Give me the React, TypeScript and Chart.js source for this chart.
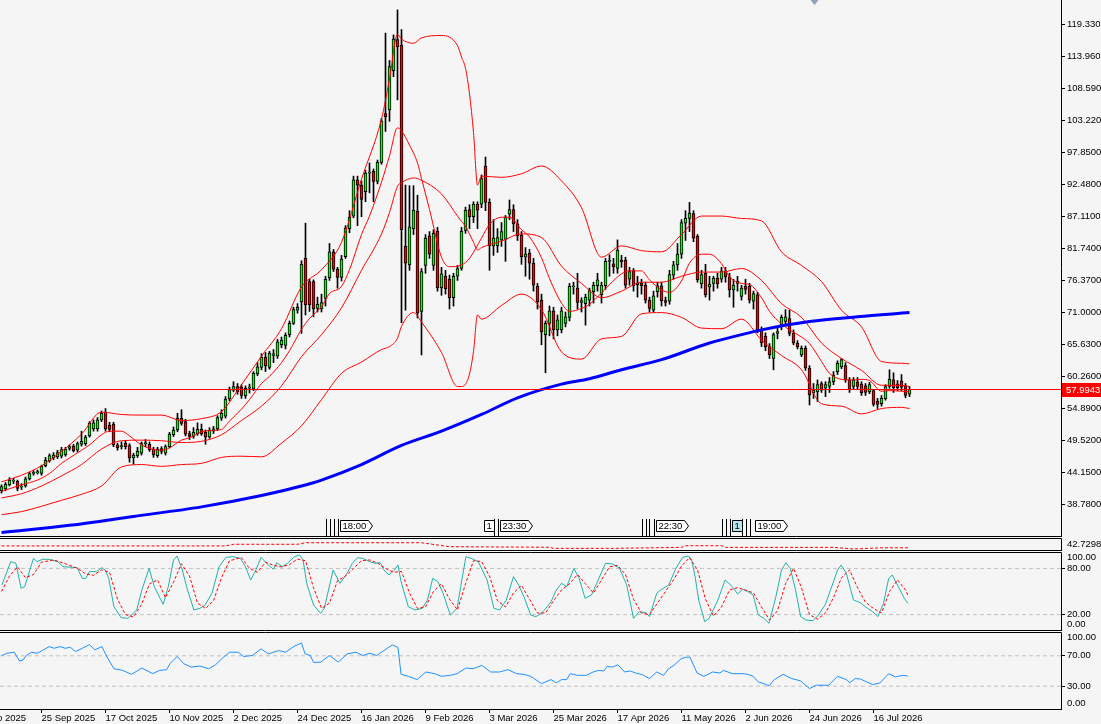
import React, { useEffect, useRef } from "react";
import { Chart, registerables } from "chart.js";

Chart.register(...registerables);

// ---------------- price data (daily candles) ----------------
const opens = [
  41.0, 41.3, 42.0, 42.6, 42.6, 41.6, 41.8, 43.0, 43.9, 44.0,
  43.9, 45.2, 46.0, 46.5, 46.7, 46.8, 47.0, 48.1, 48.5, 47.8,
  48.8, 48.9, 50.2, 51.4, 51.4, 52.9, 54.2, 52.0, 52.2, 48.7,
  48.4, 49.0, 48.6, 46.5, 46.9, 47.3, 48.9, 48.8, 48.0, 46.9,
  48.1, 47.3, 48.4, 50.4, 51.2, 53.2, 52.6, 50.6, 50.1, 50.6,
  51.3, 50.8, 50.0, 51.0, 51.4, 53.2, 53.5, 56.4, 57.9, 58.5,
  58.4, 56.9, 58.2, 58.1, 60.6, 61.7, 63.4, 61.7, 63.7, 63.6,
  65.5, 65.4, 67.2, 69.1, 71.3, 72.7, 80.0, 76.1, 76.1, 71.6,
  71.5, 73.3, 76.7, 81.1, 78.2, 76.8, 80.3, 85.0, 87.1, 93.2,
  92.3, 91.2, 94.3, 94.6, 92.9, 96.1, 104.3, 104.9, 111.5, 116.7,
  115.8, 82.0, 78.9, 85.0, 87.9, 71.1, 78.8, 83.8, 78.8, 84.6,
  75.1, 77.0, 76.5, 73.4, 77.0, 78.3, 84.7, 88.2, 87.0, 89.1,
  89.1, 95.5, 89.4, 82.1, 82.1, 83.1, 83.2, 87.4, 88.2, 85.8,
  83.9, 80.2, 80.9, 79.2, 75.3, 73.0, 67.2, 69.1, 71.2, 68.0,
  68.0, 69.1, 70.1, 75.2, 75.0, 72.6, 72.4, 73.0, 74.4, 75.4,
  73.9, 75.4, 79.5, 79.1, 78.3, 79.7, 79.7, 76.5, 77.9, 75.6,
  75.8, 75.5, 73.0, 71.3, 74.4, 75.4, 72.9, 72.8, 77.2, 78.9,
  80.7, 85.9, 86.7, 87.5, 83.7, 75.7, 77.5, 75.2, 75.8, 76.7,
  76.5, 77.9, 76.9, 74.7, 75.8, 73.6, 75.3, 75.3, 72.8, 73.9,
  68.0, 66.9, 65.2, 63.2, 67.4, 68.8, 69.4, 69.9, 67.4, 65.8,
  63.8, 64.9, 61.6, 57.4, 57.6, 59.0, 58.2, 58.5, 59.3, 61.0,
  61.8, 62.0, 59.6, 58.5, 59.3, 58.9, 58.6, 57.6, 57.8, 56.0,
  55.6, 56.4, 58.5, 59.6, 58.9, 59.4, 58.6, 57.2,
];
const highs = [
  42.0, 42.4, 43.2, 43.1, 42.8, 42.2, 43.3, 44.1, 44.4, 44.5,
  45.3, 46.6, 47.2, 47.4, 47.8, 48.3, 48.3, 48.7, 48.8, 49.2,
  51.0, 50.3, 52.6, 52.9, 53.3, 54.4, 54.8, 52.5, 52.5, 49.0,
  49.2, 49.3, 48.9, 47.3, 48.3, 49.2, 49.6, 49.2, 48.3, 48.3,
  48.4, 48.7, 50.8, 51.7, 54.0, 54.6, 53.0, 51.0, 51.6, 52.4,
  52.2, 51.2, 51.6, 51.8, 53.6, 54.6, 56.8, 58.4, 59.3, 59.0,
  58.8, 58.6, 58.9, 61.0, 62.5, 64.0, 64.2, 64.4, 64.7, 66.4,
  66.8, 67.5, 69.5, 71.8, 72.4, 79.6, 85.9, 76.5, 76.4, 73.5,
  74.0, 77.0, 82.5, 81.5, 78.5, 80.5, 85.5, 88.0, 93.8, 93.8,
  93.0, 94.8, 96.0, 95.0, 96.5, 103.5, 117.8, 113.2, 117.5, 121.7,
  118.4, 92.3, 92.2, 92.2, 90.6, 78.3, 84.0, 84.5, 84.8, 85.2,
  78.5, 78.0, 77.2, 77.5, 78.8, 85.2, 88.6, 89.0, 89.5, 89.5,
  94.0, 97.0, 90.0, 86.5, 85.0, 86.0, 87.2, 89.8, 89.0, 86.5,
  84.5, 81.8, 81.5, 80.0, 75.8, 74.0, 69.5, 72.0, 71.8, 70.5,
  71.8, 71.0, 75.8, 76.0, 77.5, 73.4, 74.0, 75.0, 76.0, 77.5,
  76.0, 80.0, 80.6, 80.0, 83.1, 80.5, 80.2, 78.5, 78.3, 77.0,
  76.5, 76.0, 73.5, 74.5, 76.0, 76.0, 73.5, 78.0, 79.5, 82.5,
  86.5, 88.0, 89.4, 88.0, 84.0, 78.0, 79.0, 77.0, 77.0, 77.5,
  78.5, 78.5, 77.5, 76.5, 77.0, 75.5, 76.5, 75.8, 74.5, 74.3,
  68.5, 67.5, 65.7, 67.5, 68.5, 70.5, 71.4, 71.3, 68.0, 66.2,
  65.3, 65.3, 62.0, 59.0, 59.6, 59.3, 59.3, 60.0, 61.0, 62.8,
  63.2, 62.5, 60.0, 60.0, 60.0, 59.3, 59.0, 59.2, 58.0, 56.5,
  57.0, 58.8, 61.3, 60.8, 59.5, 60.5, 59.0, 58.5,
];
const lows = [
  40.6, 41.0, 41.8, 42.2, 41.0, 41.2, 41.6, 42.8, 43.6, 43.8,
  43.6, 45.0, 45.8, 46.2, 46.4, 46.5, 46.8, 47.8, 47.5, 47.5,
  48.5, 48.6, 50.0, 51.0, 51.0, 52.6, 51.0, 50.9, 48.4, 47.8,
  48.0, 48.0, 45.8, 45.5, 46.6, 47.0, 48.4, 47.6, 46.6, 46.6,
  47.2, 47.0, 48.2, 50.1, 50.9, 52.0, 50.2, 49.6, 49.8, 50.3,
  50.3, 48.8, 49.8, 50.6, 51.1, 52.8, 53.2, 56.1, 57.6, 57.2,
  56.5, 56.5, 57.4, 57.8, 60.3, 61.3, 61.0, 61.4, 62.5, 63.2,
  65.0, 64.8, 66.8, 68.9, 70.8, 67.4, 70.5, 71.1, 70.2, 71.0,
  71.0, 72.0, 76.3, 77.8, 75.0, 76.2, 80.0, 84.3, 86.8, 85.5,
  87.0, 89.5, 91.0, 89.5, 92.5, 95.8, 101.3, 103.0, 110.5, 106.6,
  69.2, 71.3, 78.0, 84.0, 70.0, 63.8, 77.5, 80.0, 78.0, 74.5,
  73.8, 74.0, 71.5, 72.0, 76.3, 78.0, 84.2, 85.0, 86.0, 85.0,
  88.5, 88.0, 78.0, 80.5, 81.0, 82.0, 79.5, 86.5, 84.5, 83.0,
  79.0, 77.0, 76.5, 74.5, 71.5, 65.5, 60.8, 67.0, 66.5, 67.0,
  67.5, 68.5, 69.5, 74.0, 71.5, 71.0, 68.8, 72.0, 72.5, 74.5,
  72.5, 74.8, 77.0, 77.5, 77.5, 78.5, 75.0, 75.5, 74.5, 73.5,
  74.0, 72.5, 71.0, 71.0, 73.5, 72.0, 72.0, 72.3, 76.5, 78.0,
  80.0, 83.0, 84.5, 82.8, 76.0, 75.0, 73.5, 73.0, 74.5, 75.0,
  76.0, 76.0, 73.5, 71.8, 74.5, 73.0, 74.0, 72.5, 71.5, 67.5,
  65.2, 64.5, 63.2, 61.3, 66.5, 68.0, 69.0, 67.0, 65.5, 64.8,
  63.5, 61.2, 55.4, 56.5, 56.0, 57.5, 56.8, 57.5, 58.8, 60.5,
  61.5, 59.2, 57.5, 58.0, 58.0, 57.0, 57.0, 57.3, 55.2, 54.8,
  55.2, 56.2, 58.2, 57.5, 57.8, 57.8, 56.6, 56.8,
];
const closes = [
  41.7, 42.1, 42.8, 42.8, 41.4, 41.8, 43.0, 43.9, 44.1, 44.2,
  45.1, 46.1, 46.9, 47.0, 47.4, 47.9, 48.0, 48.4, 47.7, 48.9,
  49.3, 50.0, 52.3, 52.4, 52.9, 54.0, 51.4, 51.3, 48.7, 48.2,
  48.6, 48.4, 46.5, 47.0, 47.6, 48.9, 49.0, 47.9, 47.0, 48.0,
  47.6, 48.4, 50.5, 51.2, 53.2, 52.3, 50.5, 50.1, 50.8, 51.3,
  50.6, 50.0, 51.2, 51.4, 53.3, 54.0, 56.4, 58.0, 58.5, 57.6,
  57.0, 58.2, 58.4, 60.7, 61.8, 63.4, 62.0, 64.1, 64.0, 66.0,
  66.3, 67.1, 69.1, 71.4, 71.8, 79.0, 72.2, 72.2, 71.5, 72.3,
  72.6, 76.5, 81.1, 78.2, 76.8, 79.9, 85.1, 86.9, 93.2, 92.3,
  89.9, 94.3, 94.4, 92.9, 96.1, 103.1, 103.8, 112.2, 116.8, 115.5,
  84.8, 79.2, 85.3, 88.1, 70.8, 77.8, 83.4, 80.7, 84.2, 75.1,
  77.4, 74.9, 73.4, 77.0, 78.3, 84.6, 88.1, 87.0, 89.1, 88.1,
  93.4, 89.4, 82.1, 83.4, 83.5, 84.5, 86.9, 88.2, 85.8, 83.8,
  80.3, 80.7, 79.2, 75.5, 72.7, 67.7, 69.1, 71.2, 68.0, 69.7,
  71.2, 70.2, 75.3, 75.4, 72.6, 72.9, 73.5, 74.6, 75.5, 76.4,
  75.5, 79.5, 79.6, 78.6, 81.4, 79.4, 75.5, 77.8, 75.4, 75.9,
  75.4, 73.0, 71.6, 73.7, 75.4, 72.9, 72.6, 77.3, 78.9, 80.7,
  86.0, 86.7, 87.6, 83.4, 76.4, 77.3, 73.9, 75.7, 76.7, 75.7,
  77.9, 76.9, 74.7, 75.5, 76.2, 75.0, 74.8, 73.0, 74.1, 68.0,
  65.8, 65.2, 63.8, 67.2, 67.7, 70.1, 70.2, 67.4, 65.8, 65.2,
  64.9, 61.6, 57.1, 57.9, 58.8, 57.9, 58.8, 59.3, 60.4, 62.4,
  63.0, 59.6, 58.0, 59.6, 58.5, 57.4, 57.5, 58.8, 55.5, 55.5,
  56.5, 58.5, 59.7, 58.3, 58.3, 58.4, 57.0, 58.0,
];
const lastPrice = 57.9943;
const lastPriceLabel = "57.9943";

// ---------------- overlays ----------------
const bbIdx = [0, 5, 10, 15, 20, 25, 30, 35, 40, 45, 50, 55, 60, 65, 70, 75, 80, 85, 90, 95,
  97, 99, 100, 103, 105, 110, 114, 115, 116, 117, 118, 119, 120,
  125, 130, 135, 140, 145, 150, 155, 160, 165, 170, 175, 180, 185, 190, 195, 200, 205, 210, 215, 220, 225, 227];
const bbUpper = [42.5, 43.6, 45.2, 47.6, 50.5, 54.2, 53.8, 53.7, 53.7, 52.8, 53.1, 54.3, 58.8, 63.6, 68.2, 75.2, 78.1, 82.7, 93.3, 103.4,
  110.1, 117.6, 116.8, 116.1, 117.0, 117.4, 115.7, 113.8, 111.9, 107.6, 101.1, 92.3, 93.8,
  93.6, 94.2, 95.5, 93.0, 88.5, 80.2, 82.1, 81.3, 81.1, 84.0, 87.1, 87.1, 86.7, 86.3, 81.1, 78.8, 76.1, 71.3, 68.5, 62.7, 62.4, 62.3];
const bbMiddle = [39.8, 40.5, 41.8, 43.5, 45.4, 48.0, 49.4, 49.5, 49.4, 49.1, 49.3, 50.4, 52.8, 55.2, 58.6, 63.5, 67.2, 71.7, 78.0, 84.1,
  87.7, 92.1, 92.7, 93.5, 93.1, 90.8, 87.1, 86.2, 85.4, 84.1, 82.7, 81.4, 81.8,
  82.9, 84.1, 83.5, 78.7, 75.8, 73.4, 74.5, 76.0, 76.0, 77.0, 77.7, 77.7, 78.3, 76.3, 72.4, 70.1, 65.8, 63.2, 61.2, 58.7, 58.7, 58.5];
const bbLower = [37.0, 37.5, 38.4, 39.4, 40.4, 41.8, 45.0, 45.4, 45.1, 45.4, 45.6, 46.6, 46.8, 46.7, 49.0, 51.9, 56.3, 60.7, 62.6, 64.7,
  65.2, 66.6, 68.6, 70.9, 69.3, 64.2, 58.5, 58.5, 58.9, 60.6, 64.4, 70.5, 69.8,
  72.1, 74.0, 71.4, 64.3, 63.1, 66.5, 66.9, 70.7, 70.9, 70.1, 68.3, 68.2, 69.8, 66.3, 63.7, 61.3, 55.6, 55.2, 53.9, 54.8, 55.0, 54.8];

const smaIdx = [0, 5, 9, 12, 15, 17, 20, 22, 25, 27, 30, 32, 35, 37, 40, 42, 45, 47, 50, 52,
  55, 57, 60, 62, 65, 67, 70, 72, 75, 77, 80, 82, 85, 87, 90, 92, 95, 97, 99, 100,
  102, 104, 105, 107, 110, 112, 115, 117, 120, 122, 125, 127, 130, 132, 135, 137, 140, 142, 145, 147,
  150, 152, 155, 157, 160, 162, 165, 167, 170, 172, 175, 177, 180, 182, 185, 187, 190, 192, 195, 197,
  200, 202, 205, 207, 210, 212, 215, 217, 220, 222, 225, 227];
const smaFast = [40.9, 42.0, 42.8, 43.9, 45.6, 46.5, 47.8, 48.7, 50.4, 51.0, 51.0, 50.2, 48.7, 48.1, 47.8, 48.2, 49.5, 49.9, 50.9, 51.1,
  51.3, 52.7, 54.7, 56.3, 59.0, 60.2, 62.5, 64.5, 68.1, 69.9, 71.9, 74.1, 75.3, 78.1, 84.0, 87.1, 92.8, 97.2, 101.9, 101.4,
  99.0, 96.0, 93.4, 88.2, 80.2, 78.6, 78.9, 80.0, 83.4, 85.7, 86.9, 86.9, 84.8, 83.6, 80.1, 76.6, 72.5, 71.1, 71.6, 72.3,
  74.2, 75.6, 77.4, 77.9, 77.9, 76.4, 74.7, 74.3, 76.2, 79.2, 80.7, 80.7, 79.1, 76.9, 75.8, 75.6, 73.4, 71.1, 69.0, 68.0,
  66.8, 65.7, 62.7, 60.7, 59.7, 59.6, 59.7, 59.5, 57.7, 57.8, 57.7, 57.6];

const maIdx = [0, 17, 33, 50, 65, 75, 80, 90, 100, 110, 120, 129, 140, 147, 155, 165, 177, 185, 190, 202, 214, 227];
const maSlow = [34.0, 35.2, 36.7, 38.3, 40.2, 41.8, 42.8, 45.4, 48.6, 51.0, 53.8, 56.6, 58.9, 59.8, 61.3, 63.0, 65.8, 67.2, 68.0, 69.4, 70.2, 70.9];

// ---------------- oscillators ----------------
const stochMainIdx = [0.1, 2.3, 3.6, 4.9, 5.8, 8.0, 8.9, 10.2, 11.9, 14.1, 15.4, 18.9, 20.2, 21.1, 22.0, 23.7, 25.1, 25.9, 26.8, 28.1,
  29.9, 31.6, 33.8, 35.1, 36.9, 38.2, 40.4, 41.7, 43.0, 43.9, 45.2, 46.5, 48.1, 49.6, 50.9, 52.6, 54.4, 56.1, 57.9, 59.7,
  61.0, 62.3, 63.6, 64.9, 66.7, 68.0, 68.8, 70.2, 71.5, 73.2, 74.5, 75.4, 76.3, 78.0, 79.8, 80.7, 82.9, 84.6, 86.4, 87.7,
  89.0, 90.3, 92.1, 93.4, 94.7, 95.6, 96.9, 98.2, 99.1, 99.9, 101.7, 103.4, 105.2, 106.5, 107.8, 109.1, 110.4, 112.2, 113.9, 114.8,
  116.1, 117.4, 119.2, 121.4, 123.1, 124.5, 126.2, 128.0, 129.3, 130.6, 132.3, 133.6, 135.4, 137.4, 138.7, 140.0, 141.3, 143.1, 144.4, 145.9,
  147.5, 148.8, 151.0, 152.8, 154.5, 156.3, 158.0, 159.4, 161.1, 162.0, 163.8, 164.8, 166.8, 168.6, 170.3, 171.7, 172.5, 173.4, 174.3, 175.8,
  176.9, 179.1, 180.9, 182.7, 184.0, 185.3, 186.6, 187.9, 189.2, 190.6, 191.9, 193.6, 195.0, 196.1, 197.2, 198.5, 199.8, 201.1, 202.9, 204.2,
  205.9, 207.7, 209.0, 209.9, 211.2, 213.0, 214.7, 216.5, 217.8, 219.1, 220.5, 221.8, 222.7, 224.0, 225.7, 226.6];
const stochMain = [58.4, 88.7, 86.6, 54.1, 56.3, 93.1, 88.7, 91.8, 91.8, 88.7, 82.2, 81.0, 67.1, 67.1, 75.8, 75.8, 81.0, 77.9, 67.1, 30.3,
  16.0, 15.2, 26.0, 52.0, 80.1, 56.3, 33.3, 56.3, 90.9, 96.1, 77.9, 52.0, 26.0, 28.1, 32.5, 47.6, 82.2, 94.4, 95.2, 93.1,
  82.2, 64.9, 77.9, 94.4, 84.4, 78.8, 87.4, 82.2, 86.6, 95.2, 97.4, 90.9, 60.6, 32.5, 21.6, 28.1, 77.9, 60.6, 73.6, 86.6,
  93.9, 93.1, 88.7, 86.6, 87.4, 77.9, 71.4, 77.9, 84.4, 62.8, 30.3, 26.0, 28.1, 38.9, 67.1, 62.8, 47.6, 19.5, 28.1, 56.3,
  95.2, 93.1, 88.7, 64.9, 28.1, 26.0, 38.9, 69.3, 58.4, 43.3, 19.5, 17.3, 23.8, 36.8, 51.9, 60.6, 56.3, 80.1, 67.1, 41.1,
  45.5, 60.6, 86.6, 85.7, 80.1, 58.4, 15.1, 23.8, 22.5, 17.3, 47.6, 52.0, 58.4, 80.1, 94.4, 96.1, 91.8, 69.3, 39.0, 10.8,
  15.1, 39.0, 65.0, 56.3, 46.8, 52.8, 49.8, 45.5, 19.5, 15.1, 8.7, 43.3, 77.9, 87.4, 80.1, 52.0, 17.3, 13.0, 12.1, 19.5,
  32.5, 58.4, 77.9, 84.4, 73.6, 39.0, 35.5, 28.1, 23.8, 17.3, 34.6, 67.1, 71.4, 58.4, 41.1, 34.6];
const stochSignalIdx = [0, 2, 4, 6, 8, 10, 13, 16, 19, 21, 23, 25, 27, 29, 31, 33, 35, 37, 39, 41,
  43, 45, 47, 49, 51, 53, 55, 57, 60, 62, 64, 66, 68, 70, 72, 74, 76, 78, 80, 82,
  84, 86, 88, 90, 92, 94, 96, 98, 100, 102, 104, 106, 108, 110, 112, 114, 116, 118, 120, 122,
  124, 126, 128, 130, 132, 134, 136, 138, 140, 142, 144, 146, 148, 150, 152, 154, 156, 158, 160, 162,
  164, 166, 168, 170, 172, 174, 176, 178, 180, 182, 184, 186, 188, 190, 192, 194, 196, 198, 200, 202,
  204, 206, 208, 210, 212, 214, 216, 218, 220, 222, 224, 226, 226.6];
const stochSignal = [50, 70, 82, 68, 72, 88, 91, 86, 80, 73, 71, 78, 75, 40, 20, 17, 33, 60, 65, 42,
  62, 86, 70, 35, 28, 38, 68, 90, 94, 80, 75, 88, 84, 82, 85, 92, 90, 55, 28, 35,
  64, 70, 80, 90, 91, 87, 80, 75, 76, 48, 28, 30, 50, 60, 40, 26, 60, 90, 89, 70,
  38, 30, 48, 58, 40, 22, 22, 38, 52, 60, 72, 60, 48, 65, 82, 84, 72, 40, 22, 20,
  35, 50, 65, 83, 94, 78, 40, 18, 30, 52, 55, 52, 48, 30, 13, 25, 60, 80, 55, 20,
  14, 22, 42, 68, 78, 55, 36, 28, 22, 50, 65, 52, 45];
const stochLevels = [80, 20];

const rsiIdx = [0.1, 1.4, 3.2, 4.5, 5.4, 6.2, 7.5, 8.9, 10.2, 11.9, 13.2, 14.6, 15.9, 17.2, 18.5, 20.2, 22.0, 23.3, 25.1, 26.4,
  28.1, 30.3, 32.5, 35.1, 37.8, 39.5, 41.3, 42.1, 43.9, 45.6, 47.4, 49.6, 51.8, 53.5, 55.3, 57.0, 59.2, 60.5, 62.7, 64.9,
  66.7, 69.3, 71.0, 73.2, 75.0, 75.9, 77.2, 78.0, 79.8, 82.0, 84.2, 86.4, 88.6, 90.3, 92.1, 93.8, 95.6, 97.7, 99.1, 99.9,
  101.7, 103.9, 106.1, 108.3, 110.0, 112.2, 113.9, 116.1, 117.9, 120.1, 122.3, 124.5, 126.6, 128.8, 130.6, 132.3, 135.0, 137.4, 138.7, 140.0,
  141.3, 142.2, 144.0, 146.2, 147.9, 149.3, 150.6, 151.4, 152.8, 154.1, 155.8, 157.2, 158.5, 160.2, 162.0, 163.8, 165.5, 166.8, 168.1, 169.9,
  171.2, 172.1, 173.9, 175.6, 177.8, 179.6, 180.5, 182.7, 185.3, 186.6, 187.9, 189.2, 190.6, 191.9, 193.2, 195.4, 197.6, 199.8, 202.0, 203.7,
  206.8, 209.0, 211.2, 212.1, 213.4, 214.7, 216.1, 217.8, 219.6, 221.8, 223.5, 225.3, 226.6];
const rsiValues = [70.4, 73.4, 74.7, 63.0, 64.7, 70.4, 74.7, 73.4, 76.9, 82.1, 79.9, 82.1, 79.9, 81.2, 75.6, 79.9, 84.7, 77.8, 82.1, 68.2,
  53.0, 50.8, 45.6, 53.9, 46.5, 50.8, 51.7, 59.5, 69.1, 59.5, 55.2, 56.5, 53.0, 58.2, 67.3, 74.7, 74.7, 69.1, 70.4, 79.1,
  72.5, 76.9, 74.7, 82.6, 86.9, 72.5, 70.4, 61.3, 61.7, 70.4, 61.7, 72.5, 74.7, 70.4, 73.4, 70.4, 76.9, 84.3, 81.2, 45.6,
  43.0, 38.7, 48.7, 46.5, 43.0, 44.3, 46.5, 53.9, 53.0, 57.4, 48.7, 48.7, 51.7, 46.5, 45.6, 43.0, 33.4, 38.7, 34.3, 38.7,
  38.7, 46.5, 44.3, 44.3, 48.7, 50.8, 50.0, 56.0, 55.2, 58.2, 48.7, 50.0, 47.4, 45.2, 40.0, 48.7, 44.3, 53.0, 57.4, 66.1,
  68.2, 68.2, 47.4, 43.0, 48.7, 47.4, 50.8, 46.5, 46.5, 45.6, 43.0, 35.6, 33.4, 30.4, 38.7, 45.6, 40.0, 36.9, 26.9, 31.3,
  31.3, 43.0, 38.7, 34.7, 40.0, 39.5, 36.1, 32.1, 34.3, 46.5, 42.2, 44.3, 43.4];
const rsiLevels = [70, 30];

const tinyIdx = [0, 56, 58, 74, 76, 105, 112, 137, 138, 153, 170, 171, 180, 181, 208, 213, 220, 227];
const tinyValues = [3.7, 3.7, 5.2, 5.2, 6.6, 6.6, 3.0, 2.5, 1.5, 1.5, 2.4, 3.9, 3.9, 2.4, 2.4, 0.9, 2.0, 2.0];

// ---------------- axis labels ----------------
const priceTicks = [119.33, 113.96, 108.59, 103.22, 97.85, 92.48, 87.11, 81.74, 76.37, 71.0, 65.63, 60.26, 54.89, 49.52, 44.15, 38.78];
const dateTickIdx = [10, 26, 42, 58, 74, 90, 106, 122, 138, 154, 170, 186, 202, 218, -6];
const dateTickLabels = ["25 Sep 2025", "17 Oct 2025", "10 Nov 2025", "2 Dec 2025", "24 Dec 2025", "16 Jan 2026", "9 Feb 2026",
  "3 Mar 2026", "25 Mar 2026", "17 Apr 2026", "11 May 2026", "2 Jun 2026", "24 Jun 2026", "16 Jul 2026", "3 Sep 2025"];
const stochTickVals = [94.8, 80, 20, 7];
const stochTickLabels = ["100.00", "80.00", "20.00", "0.00"];
const rsiTickVals = [94.3, 70, 30, 7.5];
const rsiTickLabels = ["100.00", "70.00", "30.00", "0.00"];
const tinyTickVals = [5.5];
const tinyTickLabels = ["42.7298"];

// ---------------- calendar events ----------------
const eventLineIdx = [81, 82, 83, 84, 123, 124, 160, 161, 162, 163, 180, 181, 182, 185, 186, 187];
const eventBoxIdx = [84.7, 120.7, 124.7, 163.6, 182.5, 188.4];
const eventBoxText = ["18:00", "1", "23:30", "22:30", "1", "19:00"];
const eventBoxArrow = [true, false, true, true, false, true];
const eventBoxFill = ["#ffffff", "#ffffff", "#ffffff", "#ffffff", "#b4e6f0", "#ffffff"];
const topMarkIdx = 203;

// ---------------- styling ----------------
const X_MIN = -0.375;
const X_MAX = 264.875;
const FONT_FAMILY = '"Liberation Sans", Arial, sans-serif';
const FONT_SIZE = 9.5;
const BULL = "#00ff00";
const BEAR = "#ff0000";
const BAND = "#ff0000";
const LEVEL = "#c0c0c0";

const toPts = (idx: number[], vals: number[]) => idx.map((x, k) => ({ x, y: vals[k] }));
const levelPts = (v: number) => [{ x: X_MIN, y: v }, { x: X_MAX, y: v }];

const lineDs = (data: any[], color: string, width = 1, dash: number[] = [], smooth = false) => ({
  type: "line",
  data,
  borderColor: color,
  borderWidth: width,
  borderDash: dash,
  pointRadius: 0,
  pointHitRadius: 0,
  fill: false,
  tension: 0,
  ...(smooth ? { cubicInterpolationMode: "monotone" } : {}),
});

const paneBorder = {
  id: "paneBorder",
  afterDraw(chart: any, _args: any, opts: any) {
    const { ctx, chartArea: a } = chart;
    const top = Math.round(a.top) - 0.5;
    const bot = Math.round(a.bottom) + 0.5;
    const right = Math.round(a.right) + 0.5;
    ctx.save();
    ctx.strokeStyle = "#000";
    ctx.lineWidth = 1;
    ctx.setLineDash([]);
    ctx.beginPath();
    if (opts.top) {
      ctx.moveTo(0, top);
      ctx.lineTo(right, top);
    }
    ctx.moveTo(0, bot);
    ctx.lineTo(right + 0.5, bot);
    ctx.moveTo(right, opts.top ? top : 0);
    ctx.lineTo(right, bot);
    ctx.stroke();
    ctx.restore();
  },
};

const priceTag = {
  id: "priceTag",
  afterDraw(chart: any) {
    const { ctx, chartArea: a, scales } = chart;
    const y = Math.round(scales.y.getPixelForValue(lastPrice));
    ctx.save();
    ctx.fillStyle = "#ff0000";
    ctx.fillRect(Math.round(a.right) + 1, y - 7, chart.width - Math.round(a.right) - 1, 14);
    ctx.fillStyle = "#ffffff";
    ctx.font = `${FONT_SIZE}px ${FONT_FAMILY}`;
    ctx.textBaseline = "middle";
    ctx.textAlign = "left";
    ctx.fillText(lastPriceLabel, Math.round(a.right) + 5, y + 0.5);
    ctx.restore();
  },
};

const eventsPlugin = {
  id: "events",
  afterDatasetsDraw(chart: any) {
    const { ctx, chartArea: a, scales } = chart;
    const xs = scales.x;
    ctx.save();
    ctx.strokeStyle = "#000";
    ctx.lineWidth = 1;
    ctx.beginPath();
    for (const i of eventLineIdx) {
      const x = Math.round(xs.getPixelForValue(i)) + 0.5;
      ctx.moveTo(x, a.bottom - 17);
      ctx.lineTo(x, a.bottom);
    }
    ctx.stroke();
    ctx.font = `${FONT_SIZE}px ${FONT_FAMILY}`;
    ctx.textBaseline = "middle";
    ctx.textAlign = "left";
    eventBoxIdx.forEach((at, k) => {
      const text = eventBoxText[k];
      const x0 = Math.round(xs.getPixelForValue(at)) + 0.5;
      const w = Math.ceil(ctx.measureText(text).width) + 4;
      const top = Math.round(a.bottom) - 15.5;
      const bot = Math.round(a.bottom) - 4.5;
      const mid = (top + bot) / 2;
      ctx.beginPath();
      ctx.moveTo(x0, top);
      ctx.lineTo(x0 + w, top);
      if (eventBoxArrow[k]) ctx.lineTo(x0 + w + 4, mid);
      ctx.lineTo(x0 + w, bot);
      ctx.lineTo(x0, bot);
      ctx.closePath();
      ctx.fillStyle = eventBoxFill[k];
      ctx.fill();
      ctx.stroke();
      ctx.fillStyle = "#000";
      ctx.fillText(text, x0 + 2, mid + 0.5);
    });
    const mx = Math.round(xs.getPixelForValue(topMarkIdx)) + 0.5;
    ctx.beginPath();
    ctx.moveTo(mx - 4, 0);
    ctx.lineTo(mx + 4, 0);
    ctx.lineTo(mx, 5);
    ctx.closePath();
    ctx.fillStyle = "#8fa2b8";
    ctx.fill();
    ctx.restore();
  },
};

function rightAxis(min: number, max: number, vals: number[], label: (v: number, i: number) => string, marked: (v: number) => boolean) {
  return {
    position: "right",
    min,
    max,
    afterBuildTicks: (s: any) => {
      s.ticks = vals.map((v) => ({ value: v }));
    },
    afterFit: (s: any) => {
      s.width = 40;
      s.paddingTop = 0;
      s.paddingBottom = 0;
      s.paddingLeft = 0;
      s.paddingRight = 0;
    },
    ticks: {
      autoSkip: false,
      padding: 2,
      color: "#000",
      font: { family: FONT_FAMILY, size: FONT_SIZE },
      callback: (v: number, i: number) => label(v, i),
    },
    grid: {
      drawOnChartArea: false,
      drawTicks: true,
      tickLength: 4,
      color: "#000",
      tickColor: (c: any) => (c.tick && marked(c.tick.value) ? "#000" : "rgba(0,0,0,0)"),
    },
    border: { display: false },
  };
}

const xHidden = { type: "linear", min: X_MIN, max: X_MAX, offset: false, display: false };

function baseOptions(padding: any, scales: any, borderTop: boolean) {
  return {
    responsive: false,
    maintainAspectRatio: false,
    animation: false,
    devicePixelRatio: 1,
    events: [],
    layout: { padding, autoPadding: false },
    plugins: {
      legend: { display: false },
      tooltip: { enabled: false },
      paneBorder: { top: borderTop },
    },
    scales,
  };
}

function makeMain(canvas: HTMLCanvasElement) {
  const bodyPts = closes.map((c, i) => ({ x: i, y: [Math.min(opens[i], c), Math.max(opens[i], c)] }));
  const wickPts = closes.map((_c, i) => ({ x: i, y: [lows[i], highs[i]] }));
  const bodyColors = closes.map((c, i) => (c >= opens[i] ? BULL : BEAR));
  return new Chart(canvas, {
    type: "bar",
    data: {
      datasets: [
        lineDs(levelPts(lastPrice), "#ff0000", 1),
        lineDs(toPts(maIdx, maSlow), "#0000ff", 3, [], true),
        lineDs(toPts(smaIdx, smaFast), BAND, 1, [], true),
        lineDs(toPts(bbIdx, bbUpper), BAND, 1, [], true),
        lineDs(toPts(bbIdx, bbMiddle), BAND, 1, [], true),
        lineDs(toPts(bbIdx, bbLower), BAND, 1, [], true),
        {
          type: "bar",
          data: bodyPts,
          backgroundColor: bodyColors,
          borderColor: "#000",
          borderWidth: 1,
          borderSkipped: false,
          barThickness: 3,
          grouped: false,
          minBarLength: 1,
        },
        {
          type: "bar",
          data: wickPts,
          backgroundColor: "#000",
          borderWidth: 0,
          barThickness: 1,
          grouped: false,
        },
      ] as any,
    },
    options: baseOptions({ left: 0, right: 0, top: 0, bottom: 1 }, {
      x: xHidden,
      y: rightAxis(33.41, 123.358, priceTicks, (v) => v.toFixed(4), () => true),
    }, false) as any,
    plugins: [paneBorder, eventsPlugin, priceTag],
  });
}

function makeTiny(canvas: HTMLCanvasElement) {
  return new Chart(canvas, {
    type: "line",
    data: { datasets: [lineDs(toPts(tinyIdx, tinyValues), "#ff0000", 1, [3, 2])] as any },
    options: baseOptions({ left: 0, right: 0, top: 2, bottom: 1 }, {
      x: xHidden,
      y: rightAxis(0, 10, tinyTickVals, (_v, i) => tinyTickLabels[i], () => false),
    }, true) as any,
    plugins: [paneBorder],
  });
}

function makeStoch(canvas: HTMLCanvasElement) {
  return new Chart(canvas, {
    type: "line",
    data: {
      datasets: [
        lineDs(toPts(stochSignalIdx, stochSignal), "#ff0000", 1, [3, 2]),
        lineDs(toPts(stochMainIdx, stochMain), "#20b2aa", 1),
        ...stochLevels.map((l) => lineDs(levelPts(l), LEVEL, 1, [4, 3])),
      ] as any,
    },
    options: baseOptions({ left: 0, right: 0, top: 2, bottom: 1 }, {
      x: xHidden,
      y: rightAxis(0, 100, stochTickVals, (_v, i) => stochTickLabels[i], (v) => stochLevels.includes(v)),
    }, true) as any,
    plugins: [paneBorder],
  });
}

function makeRsi(canvas: HTMLCanvasElement) {
  return new Chart(canvas, {
    type: "line",
    data: {
      datasets: [
        lineDs(toPts(rsiIdx, rsiValues), "#1e90ff", 1),
        ...rsiLevels.map((l) => lineDs(levelPts(l), LEVEL, 1, [4, 3])),
      ] as any,
    },
    options: baseOptions({ left: 0, right: 0, top: 2, bottom: 0 }, {
      x: {
        type: "linear",
        min: X_MIN,
        max: X_MAX,
        offset: false,
        afterBuildTicks: (s: any) => {
          s.ticks = dateTickIdx.map((v) => ({ value: v }));
        },
        afterFit: (s: any) => {
          s.height = 15;
          s.paddingTop = 0;
          s.paddingBottom = 0;
          s.paddingLeft = 0;
          s.paddingRight = 0;
        },
        ticks: {
          autoSkip: false,
          maxRotation: 0,
          minRotation: 0,
          align: "start",
          padding: 0,
          color: "#000",
          font: { family: FONT_FAMILY, size: FONT_SIZE },
          callback: (_v: number, i: number) => dateTickLabels[i],
        },
        grid: {
          display: true,
          drawOnChartArea: false,
          drawTicks: true,
          tickLength: 4,
          color: "#000",
          tickColor: "#000",
        },
        border: { display: false },
      },
      y: rightAxis(0, 100, rsiTickVals, (_v, i) => rsiTickLabels[i], (v) => rsiLevels.includes(v)),
    }, true) as any,
    plugins: [paneBorder],
  });
}

export default function App() {
  const mainRef = useRef<HTMLCanvasElement>(null);
  const tinyRef = useRef<HTMLCanvasElement>(null);
  const stochRef = useRef<HTMLCanvasElement>(null);
  const rsiRef = useRef<HTMLCanvasElement>(null);

  useEffect(() => {
    const charts = [
      makeMain(mainRef.current!),
      makeTiny(tinyRef.current!),
      makeStoch(stochRef.current!),
      makeRsi(rsiRef.current!),
    ];
    return () => charts.forEach((c) => c.destroy());
  }, []);

  const cs = { display: "block" } as React.CSSProperties;
  return (
    <div
      style={{
        position: "fixed",
        left: 0,
        top: 0,
        width: 1101,
        height: 724,
        background: "#f5f5f5",
        overflow: "hidden",
      }}
    >
      <canvas ref={mainRef} width={1101} height={537} style={{ ...cs, width: 1101, height: 537 }} />
      <canvas ref={tinyRef} width={1101} height={14} style={{ ...cs, width: 1101, height: 14 }} />
      <canvas ref={stochRef} width={1101} height={80} style={{ ...cs, width: 1101, height: 80 }} />
      <canvas ref={rsiRef} width={1101} height={93} style={{ ...cs, width: 1101, height: 93 }} />
    </div>
  );
}
